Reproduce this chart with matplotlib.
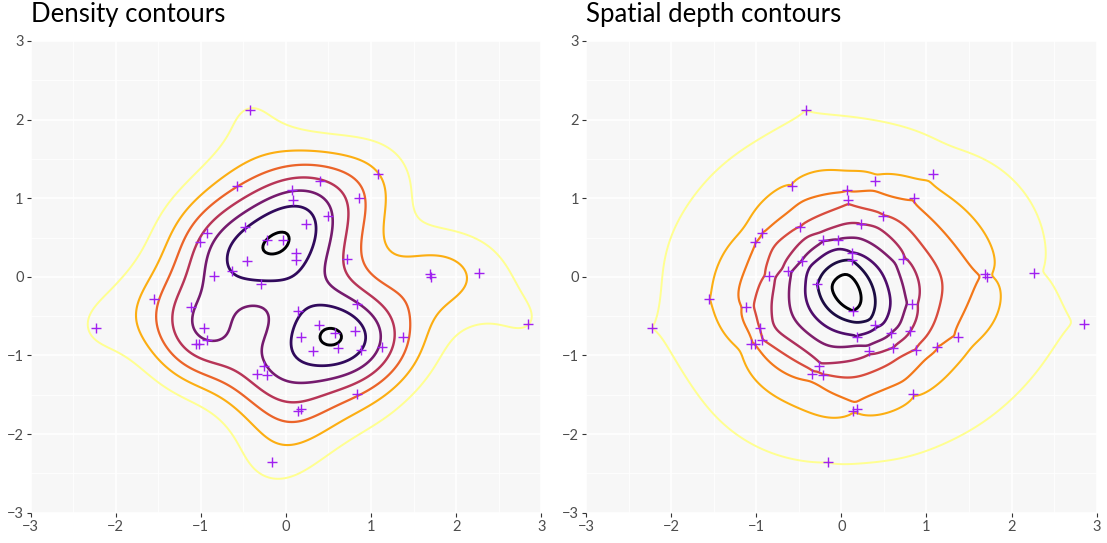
import matplotlib
matplotlib.use('Agg')
import matplotlib.pyplot as plt
import numpy as np

# sample points
px = [-0.42, -0.58, -0.48, -0.93, -1.01, -0.22, -0.04, -0.46, -0.85, -0.63,
      0.07, 0.08, 0.40, 1.08, 0.86, 0.49, 0.23, 0.12, 0.12, 0.72,
      1.69, 1.71, 2.27, -0.29, -1.55, -1.12, -2.23, -0.96, -0.93, -1.06,
      -1.02, -0.26, -0.34, -0.22, -0.16, 0.83, 0.14, 0.39, 0.18, 0.58,
      0.81, 0.32, 0.61, 0.88, 1.13, 1.37, 2.85, 0.84, 0.14, 0.18]
py = [2.12, 1.16, 0.64, 0.56, 0.44, 0.47, 0.47, 0.20, 0.01, 0.08,
      1.11, 0.98, 1.22, 1.31, 1.00, 0.78, 0.67, 0.30, 0.21, 0.23,
      0.03, 0.00, 0.05, -0.09, -0.28, -0.38, -0.65, -0.65, -0.80, -0.85,
      -0.86, -1.14, -1.23, -1.25, -2.36, -0.34, -0.44, -0.61, -0.76, -0.71,
      -0.69, -0.94, -0.91, -0.93, -0.89, -0.77, -0.60, -1.49, -1.71, -1.68]

n_dens_levels = 7
depth_levels = [0.1, 0.2, 0.3, 0.4, 0.5, 0.6, 0.7, 0.8, 0.9]
ticks = [-3, -2, -1, 0, 1, 2, 3]
titles = ['Density contours', 'Spatial depth contours']

x = np.array(px)
y = np.array(py)

g = np.linspace(-3, 3, 220)
gx, gy = np.meshgrid(g, g)

# 2d kernel density like MASS::kde2d with bandwidth.nrd
def bw_nrd(v):
    q = np.percentile(v, [25, 75])
    h = (q[1] - q[0]) / 1.34
    return 4 * 1.06 * min(np.std(v, ddof=1), h) * len(v) ** (-0.2)

hx = bw_nrd(x) / 4
hy = bw_nrd(y) / 4
kx = np.exp(-0.5 * ((gx[..., None] - x) / hx) ** 2) / (np.sqrt(2 * np.pi) * hx)
ky = np.exp(-0.5 * ((gy[..., None] - y) / hy) ** 2) / (np.sqrt(2 * np.pi) * hy)
dens = (kx * ky).mean(axis=-1)

# top level just under the lower of the two peaks
peak1 = dens[(gx < 0.2) & (gy > 0)].max()
peak2 = dens[(gx > 0.2) & (gy < 0)].max()
top = 0.985 * min(peak1, peak2)
dens_levels = list(top * np.arange(1, n_dens_levels + 1) / n_dens_levels)

# spatial depth
dx = gx[..., None] - x
dy = gy[..., None] - y
r = np.sqrt(dx ** 2 + dy ** 2)
r[r == 0] = np.inf
ux = (dx / r).mean(axis=-1)
uy = (dy / r).mean(axis=-1)
depth = 1 - np.sqrt(ux ** 2 + uy ** 2)

plt.rcParams['font.family'] = ['Lato', 'DejaVu Sans']
fig = plt.figure(figsize=(11.07, 5.43), dpi=100)
ax1 = fig.add_axes([0.0277, 0.0558, 0.4612, 0.8687])
ax2 = fig.add_axes([0.5294, 0.0558, 0.4612, 0.8687])

for ax, z, levels, title in ((ax1, dens, dens_levels, titles[0]),
                             (ax2, depth, depth_levels, titles[1])):
    ax.set_facecolor('#F7F7F7')
    for s in ax.spines.values():
        s.set_visible(False)
    ax.set_xlim(-3, 3)
    ax.set_ylim(-3, 3)
    ax.set_xticks(ticks)
    ax.set_yticks(ticks)
    ax.set_xticks(np.arange(-2.5, 3, 1), minor=True)
    ax.set_yticks(np.arange(-2.5, 3, 1), minor=True)
    ax.grid(which='major', color='white', linewidth=1.1)
    ax.grid(which='minor', color='white', linewidth=0.55)
    ax.set_axisbelow(True)
    ax.tick_params(which='major', length=3, width=0.8, color='#333333',
                   labelcolor='#4D4D4D', labelsize=10.5, pad=2)
    ax.tick_params(which='minor', length=0)
    nl = len(levels)
    cols = list(plt.cm.inferno(np.linspace(0.82, 0, nl - 1)))
    cols = ['#FFFF90'] + cols
    lws = np.linspace(1.4, 2.1, nl)
    ax.contour(gx, gy, z, levels=levels, colors=cols, linewidths=lws)
    ax.plot(x, y, linestyle='none', marker='+', markersize=7, mew=1.0,
            color='#A020F0')
    ax.text(0, 1.03, title, transform=ax.transAxes, fontsize=18.5,
            ha='left', va='bottom', color='black')

fig.savefig('out.png', dpi=100)
